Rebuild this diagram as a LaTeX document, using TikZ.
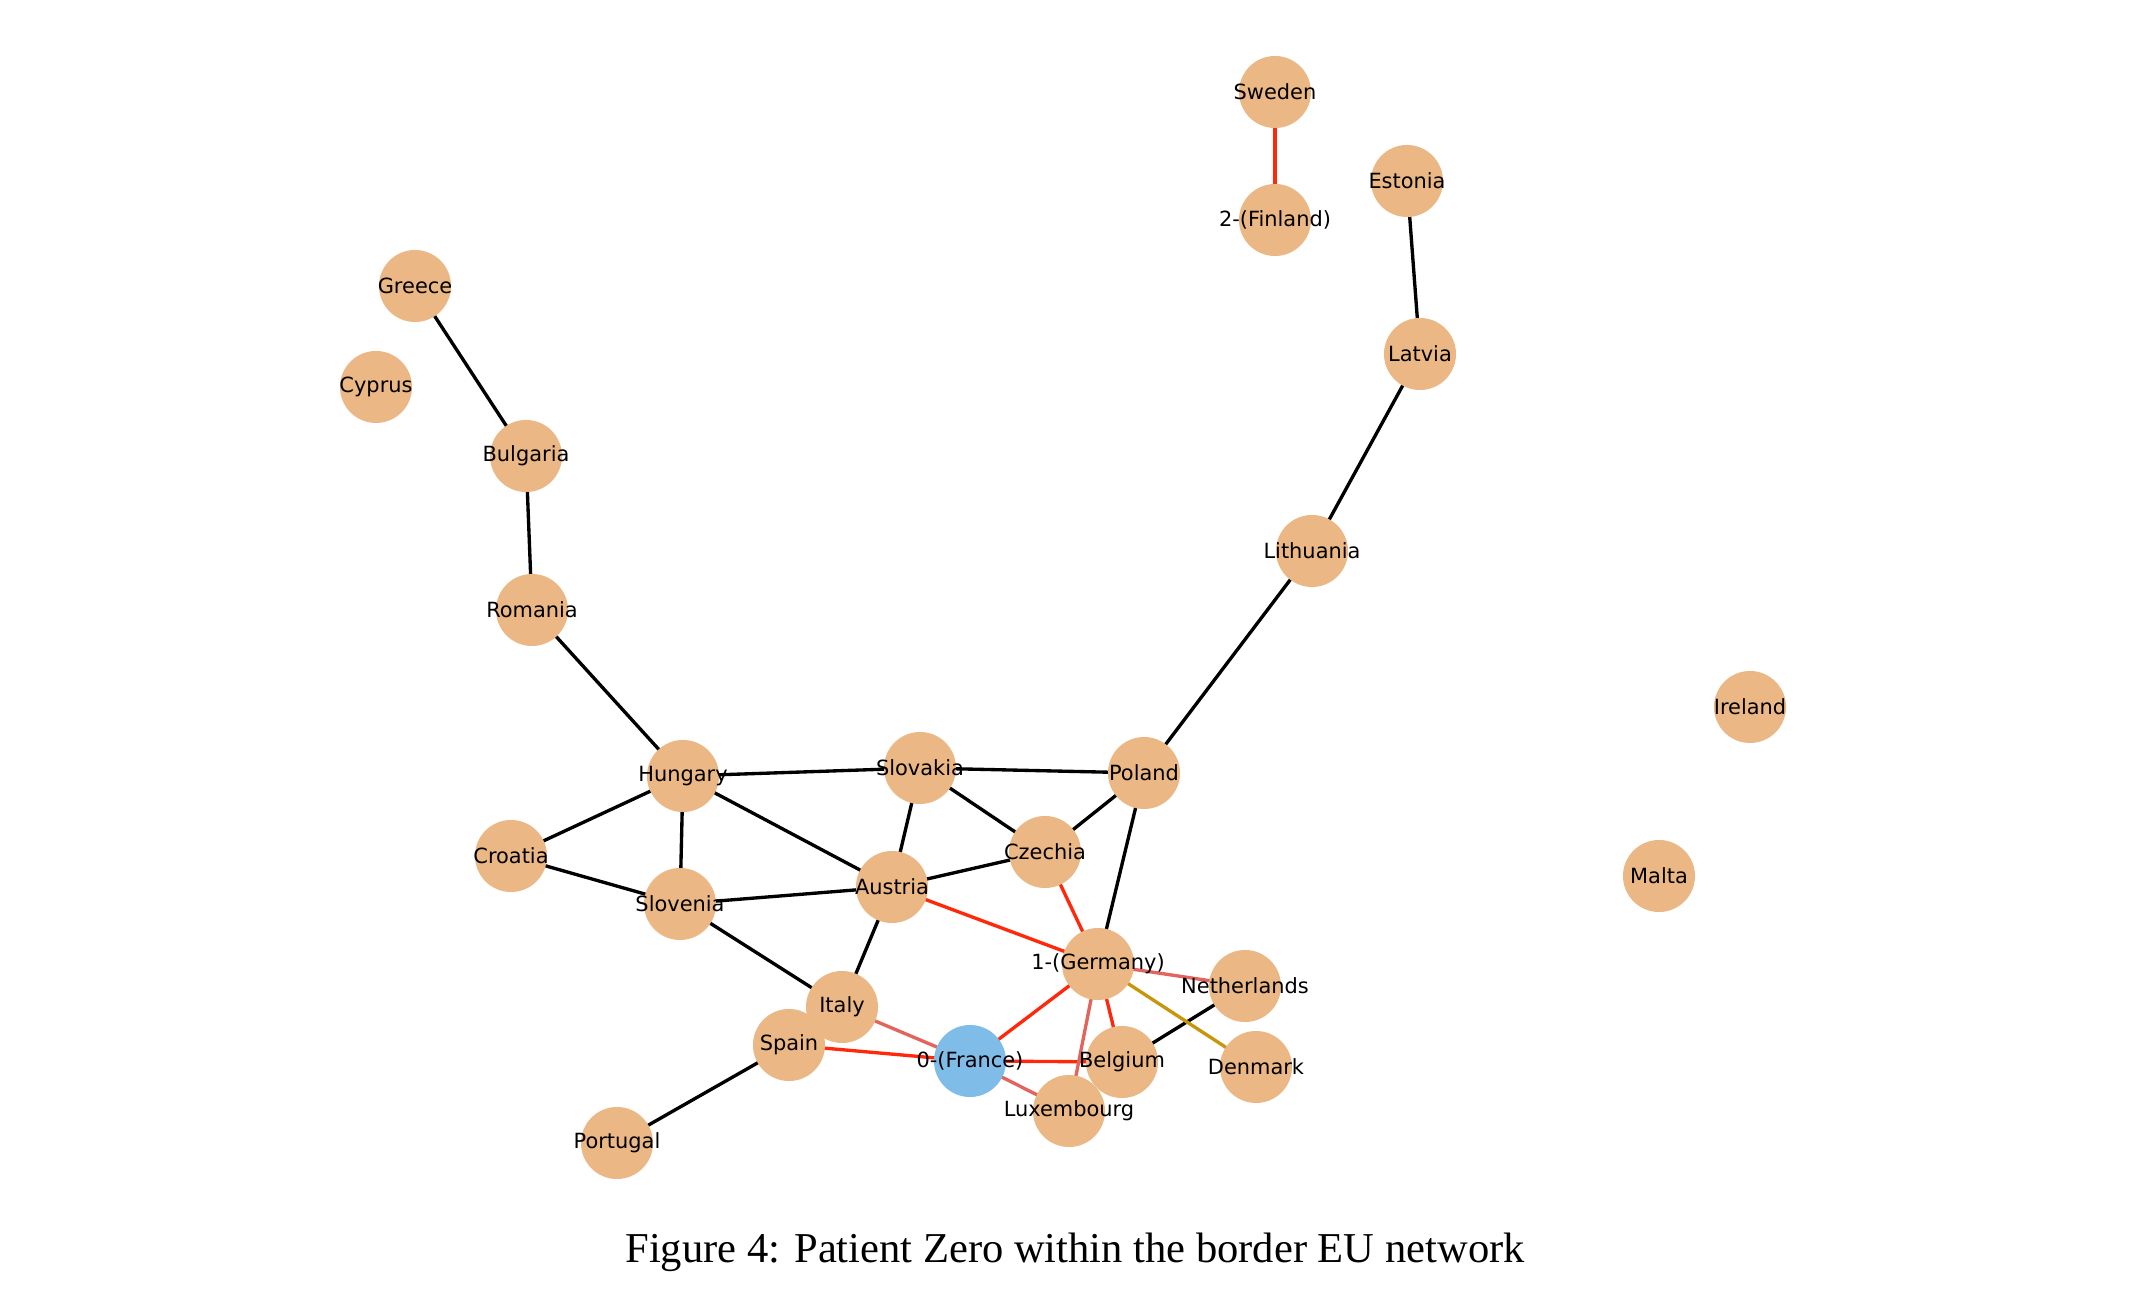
\documentclass[tikz,border=0pt]{standalone}
\usepackage{fontspec}
\setmainfont{Liberation Serif}
\newfontfamily\lblfont{DejaVu Sans}
\usetikzlibrary{backgrounds}
\definecolor{nodeorange}{RGB}{235,183,132}
\definecolor{nodeblue}{RGB}{128,188,232}
\definecolor{edgered}{RGB}{255,40,10}
\definecolor{edgelight}{RGB}{226,100,92}
\definecolor{edgegold}{RGB}{200,150,10}
\tikzset{
  country/.style={circle, fill=nodeorange, draw=none, minimum size=0.72cm, inner sep=0pt,
    label={[font=\lblfont\fontsize{5.95}{7}\selectfont, text=black, inner sep=0pt]center:#1}},
  patient/.style={country=#1, fill=nodeblue},
  blk/.style={draw=black, line width=0.95pt},
  hot/.style={draw=edgered, line width=0.95pt},
  warm/.style={draw=edgelight, line width=0.95pt},
  gold/.style={draw=edgegold, line width=0.95pt},
}
\begin{document}
\begin{tikzpicture}[x=0.01cm, y=-0.01cm]
\useasboundingbox (0,0) rectangle (2154,1316);
\node[country=Sweden] (SE) at (1275,92) {};
\node[country=2-(Finland)] (FI) at (1275,220) {};
\node[country=Estonia] (EE) at (1407,181) {};
\node[country=Latvia] (LV) at (1420,354) {};
\node[country=Lithuania] (LT) at (1312,551) {};
\node[country=Greece] (GR) at (415,286) {};
\node[country=Cyprus] (CY) at (376,387) {};
\node[country=Bulgaria] (BG) at (526,456) {};
\node[country=Romania] (RO) at (532,610) {};
\node[country=Ireland] (IE) at (1750,707) {};
\node[country=Malta] (MT) at (1659,876) {};
\node[country=Hungary] (HU) at (683,776) {};
\node[country=Slovakia] (SK) at (920,768) {};
\node[country=Poland] (PL) at (1144,773) {};
\node[country=Croatia] (HR) at (511,856) {};
\node[country=Czechia] (CZ) at (1045,852) {};
\node[country=Austria] (AT) at (892,887) {};
\node[country=Slovenia] (SI) at (680,904) {};
\node[country=1-(Germany)] (DE) at (1098,964) {};
\node[country=Netherlands] (NL) at (1245,986) {};
\node[country=Italy] (IT) at (842,1007) {};
\node[country=Spain] (ES) at (789,1045) {};
\node[patient=0-(France)] (FR) at (970,1061) {};
\node[country=Belgium] (BE) at (1122,1062) {};
\node[country=Denmark] (DK) at (1256,1067) {};
\node[country=Luxembourg] (LU) at (1069,1111) {};
\node[country=Portugal] (PT) at (617,1143) {};
\begin{scope}[on background layer]
\draw[blk] (EE.center) -- (LV.center);
\draw[blk] (LV.center) -- (LT.center);
\draw[blk] (LT.center) -- (PL.center);
\draw[blk] (GR.center) -- (BG.center);
\draw[blk] (BG.center) -- (RO.center);
\draw[blk] (RO.center) -- (HU.center);
\draw[blk] (HU.center) -- (SK.center);
\draw[blk] (SK.center) -- (PL.center);
\draw[blk] (HU.center) -- (HR.center);
\draw[blk] (HU.center) -- (SI.center);
\draw[blk] (HU.center) -- (AT.center);
\draw[blk] (SK.center) -- (AT.center);
\draw[blk] (SK.center) -- (CZ.center);
\draw[blk] (PL.center) -- (CZ.center);
\draw[blk] (PL.center) -- (DE.center);
\draw[blk] (HR.center) -- (SI.center);
\draw[blk] (SI.center) -- (AT.center);
\draw[blk] (AT.center) -- (CZ.center);
\draw[blk] (SI.center) -- (IT.center);
\draw[blk] (AT.center) -- (IT.center);
\draw[blk] (ES.center) -- (PT.center);
\draw[blk] (BE.center) -- (NL.center);
\draw[hot] (SE.center) -- (FI.center);
\draw[hot] (AT.center) -- (DE.center);
\draw[hot] (CZ.center) -- (DE.center);
\draw[hot] (DE.center) -- (FR.center);
\draw[hot] (DE.center) -- (BE.center);
\draw[hot] (ES.center) -- (FR.center);
\draw[hot] (FR.center) -- (BE.center);
\draw[warm] (DE.center) -- (NL.center);
\draw[warm] (IT.center) -- (FR.center);
\draw[warm] (FR.center) -- (LU.center);
\draw[warm] (DE.center) -- (LU.center);
\draw[gold] (DE.center) -- (DK.center);
\end{scope}
\node[font=\fontsize{12.1}{14}\selectfont, inner sep=0pt] (cap) at (1075,1252) {Figure 4: Patient Zero within the border EU network};
\end{tikzpicture}
\end{document}
